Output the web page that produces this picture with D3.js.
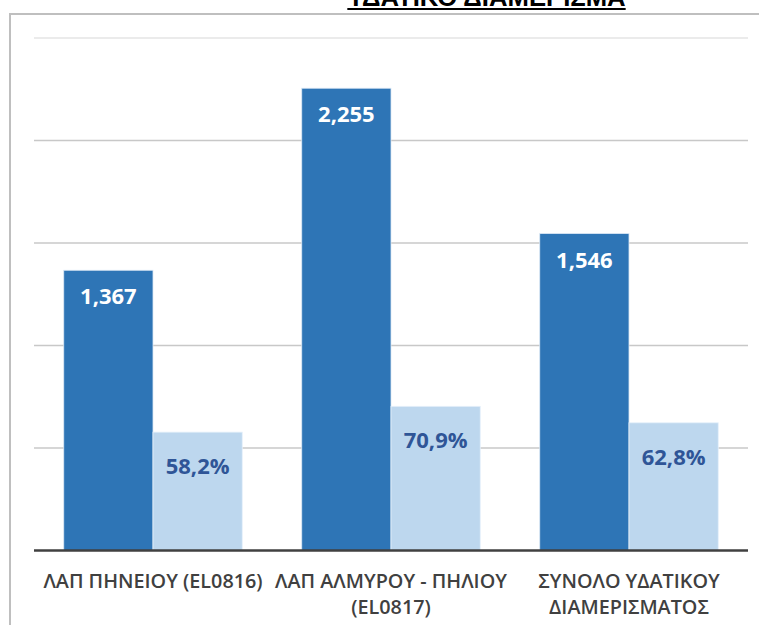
<!DOCTYPE html>
<meta charset="utf-8">
<style>
body { margin: 0; background: #fff; }
svg { display: block; }
.title { font: bold 25.7px "Liberation Sans", Arial, sans-serif; fill: #000; }
.cat text { font: 600 19.8px "Open Sans", sans-serif; fill: #404040; }
.val { font: bold 22px "Open Sans", sans-serif; }
</style>
<svg width="759" height="625"></svg>
<script src="https://d3js.org/d3.v7.min.js"></script>
<script>

// chart values
var categories = ["ΛΑΠ ΠΗΝΕΙΟΥ (EL0816)", "ΛΑΠ ΑΛΜΥΡΟΥ - ΠΗΛΙΟΥ (EL0817)", "ΣΥΝΟΛΟ ΥΔΑΤΙΚΟΥ ΔΙΑΜΕΡΙΣΜΑΤΟΣ"];
var amounts = [1367, 2255, 1546];      // primary (hidden) axis
var shares = [0.582, 0.709, 0.628];    // secondary (hidden) axis
var gridTicks = [500, 1000, 1500, 2000, 2500];
var titleText = "ΥΔΑΤΙΚΟ ΔΙΑΜΕΡΙΣΜΑ";

var svg = d3.select("svg");

var plotLeft = 34, plotRight = 748, plotTop = 38, plotBottom = 550.5;

var x = d3.scaleBand()
  .domain(categories)
  .range([plotLeft, plotRight])
  .paddingInner(0.25)
  .paddingOuter(0.125);

var xSub = d3.scaleBand()
  .domain(["amount", "share"])
  .range([0, x.bandwidth()]);

var y = d3.scaleLinear().domain([0, 2500]).range([plotBottom, plotTop]);
var y2 = d3.scaleLinear().domain([0, 2.52]).range([plotBottom, plotTop]);

var grLocale = d3.formatLocale({decimal: ",", thousands: ",", grouping: [3], currency: ["", "€"]});
var fmtAmount = grLocale.format(",d");
var fmtShare = grLocale.format(".1%");

// frame
svg.append("rect")
  .attr("x", 10).attr("y", 14)
  .attr("width", 800).attr("height", 700)
  .attr("fill", "none")
  .attr("stroke", "#bfbfbf")
  .attr("stroke-width", 2);

// title (cut off at the top like the source)
var title = svg.append("text")
  .attr("class", "title")
  .attr("x", 486.5)
  .attr("y", 6)
  .attr("text-anchor", "middle")
  .text(titleText);
var tw = title.node().getComputedTextLength();
svg.append("line")
  .attr("x1", 486.5 - tw / 2).attr("x2", 486.5 + tw / 2)
  .attr("y1", 9).attr("y2", 9)
  .attr("stroke", "#000").attr("stroke-width", 2);

// gridlines
svg.append("g")
  .selectAll("line")
  .data(gridTicks)
  .join("line")
  .attr("x1", plotLeft).attr("x2", plotRight)
  .attr("y1", d => y(d)).attr("y2", d => y(d))
  .attr("stroke", d => d === 2500 ? "#e4e4e4" : "#c8c8c8")
  .attr("stroke-width", 1.5);

var groups = svg.append("g")
  .selectAll("g")
  .data(categories)
  .join("g")
  .attr("transform", d => "translate(" + x(d) + ",0)");

// dark bars
groups.append("rect")
  .attr("x", xSub("amount"))
  .attr("width", xSub.bandwidth())
  .attr("y", (d, i) => y(amounts[i]))
  .attr("height", (d, i) => plotBottom - y(amounts[i]))
  .attr("fill", "#2e75b6")
  .attr("stroke", "#dbe8f5").attr("stroke-width", 0.8);

// light bars
groups.append("rect")
  .attr("x", xSub("share"))
  .attr("width", xSub.bandwidth())
  .attr("y", (d, i) => y2(shares[i]))
  .attr("height", (d, i) => plotBottom - y2(shares[i]))
  .attr("fill", "#bdd7ee")
  .attr("stroke", "#e6f0fa").attr("stroke-width", 0.8);

groups.append("text")
  .attr("class", "val")
  .attr("x", xSub("amount") + xSub.bandwidth() / 2)
  .attr("y", (d, i) => y(amounts[i]) + 34)
  .attr("text-anchor", "middle")
  .attr("fill", "#fff")
  .text((d, i) => fmtAmount(amounts[i]));

groups.append("text")
  .attr("class", "val")
  .attr("x", xSub("share") + xSub.bandwidth() / 2)
  .attr("y", (d, i) => y2(shares[i]) + 42)
  .attr("text-anchor", "middle")
  .attr("fill", "#2f5597")
  .text((d, i) => fmtShare(shares[i]));

// baseline
svg.append("line")
  .attr("x1", plotLeft).attr("x2", plotRight)
  .attr("y1", plotBottom).attr("y2", plotBottom)
  .attr("stroke", "#404040")
  .attr("stroke-width", 2.5);

// category axis
var xAxis = svg.append("g")
  .attr("class", "cat")
  .attr("transform", "translate(0," + plotBottom + ")")
  .call(d3.axisBottom(x).tickSize(0).tickPadding(0));
xAxis.select(".domain").remove();
xAxis.selectAll("text")
  .attr("y", 37.5).attr("dy", 0)
  .call(wrap, x.step() - 2);

function wrap(text, width) {
  text.each(function() {
    var t = d3.select(this),
        words = t.text().split(/\s+/),
        line = [],
        lines = [];
    t.text(null);
    var probe = t.append("tspan");
    words.forEach(function(w) {
      line.push(w);
      probe.text(line.join(" "));
      if (probe.node().getComputedTextLength() > width && line.length > 1) {
        line.pop();
        lines.push(line.join(" "));
        line = [w];
      }
    });
    lines.push(line.join(" "));
    probe.remove();
    lines.forEach(function(l, k) {
      t.append("tspan")
        .attr("x", 0)
        .attr("y", 37.5 + k * 25.5)
        .text(l);
    });
  });
}

</script>
